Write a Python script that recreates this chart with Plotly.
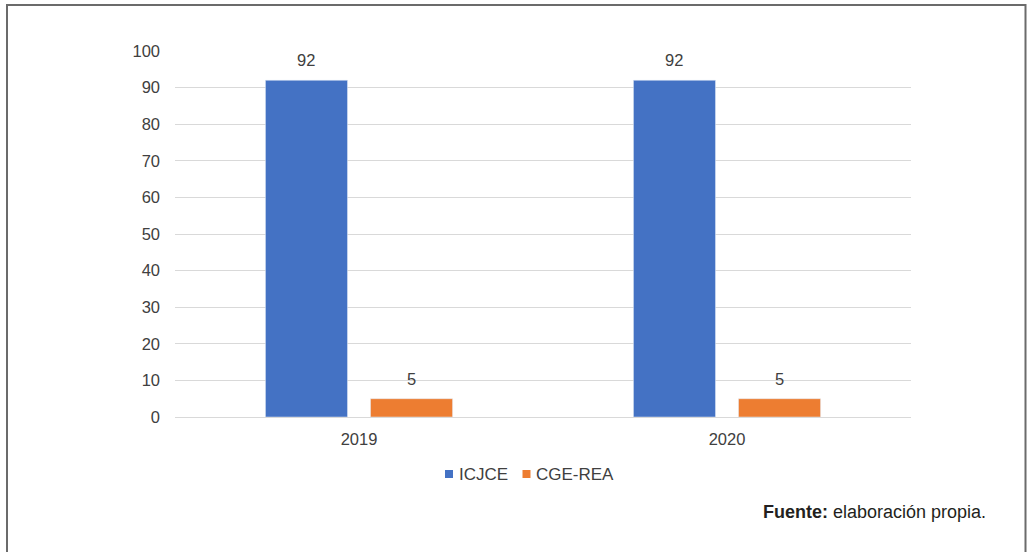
import plotly.graph_objects as go

years = ["2019", "2020"]
icjce = [92, 92]
cge_rea = [5, 5]
y_ticks = [0, 10, 20, 30, 40, 50, 60, 70, 80, 90, 100]
series_names = ["ICJCE", "CGE-REA"]
series_colors = ["#4472C4", "#ED7D31"]

W, H = 1028, 552
L, R, T, B = 175, 117, 51, 135
pw, ph = W - L - R, H - T - B

def px_x(x):
    return (x - L) / pw

def px_y(y):
    return (H - B - y) / ph

font_family = "Liberation Sans, Arial, sans-serif"
txt_color = "#404040"

fig = go.Figure()
for name, vals, col in zip(series_names, [icjce, cge_rea], series_colors):
    fig.add_trace(go.Bar(
        name=name, x=years, y=vals, marker_color=col,
        showlegend=False, offsetgroup=name,
    ))

# data labels (placed above each bar, offset within group)
bar_offset = 0.1427
for si, (vals, sign) in enumerate(zip([icjce, cge_rea], [-1, 1])):
    for ci, v in enumerate(vals):
        fig.add_annotation(x=ci + sign * bar_offset, y=v, xref="x", yref="y",
                           text=str(v), showarrow=False, yanchor="bottom", yshift=9,
                           font=dict(size=16.5, color=txt_color, family=font_family))

fig.update_layout(
    width=W, height=H,
    margin=dict(l=L, r=R, t=T, b=B, autoexpand=False),
    paper_bgcolor="white", plot_bgcolor="white",
    barmode="group", bargap=0.429, bargroupgap=0.219,
    font=dict(family=font_family, size=16.5, color=txt_color),
    showlegend=False,
    xaxis=dict(showgrid=False, showline=True, linecolor="#d9d9d9", linewidth=1,
               ticks="", tickfont=dict(size=16.5, color=txt_color), ticklabelstandoff=7,
               range=[-0.5, 1.5]),
    yaxis=dict(range=[0, 100], tickvals=y_ticks, showgrid=True, gridcolor="#d9d9d9",
               gridwidth=1, zeroline=False, showline=False, ticks="",
               tickfont=dict(size=16.5, color=txt_color), ticklabelstandoff=14),
)

# legend drawn as coloured squares + labels
legend_items = [(445, 457), (522.5, 534)]
for (sx, tx), name, col in zip(legend_items, series_names, series_colors):
    fig.add_shape(type="rect", xref="paper", yref="paper",
                  x0=px_x(sx), x1=px_x(sx + 8), y0=px_y(478), y1=px_y(470),
                  line=dict(width=0), fillcolor=col)
    fig.add_annotation(xref="paper", yref="paper", x=px_x(tx), y=px_y(474.5),
                       xanchor="left", yanchor="middle", showarrow=False, text=name,
                       font=dict(size=17, color=txt_color, family=font_family))

fig.add_shape(type="rect", xref="paper", yref="paper",
              x0=px_x(7), x1=px_x(1025.5), y0=px_y(570), y1=px_y(5),
              line=dict(color="#6b6b6b", width=2), fillcolor="rgba(0,0,0,0)", layer="above")

fig.add_annotation(xref="paper", yref="paper", x=px_x(988), y=px_y(512),
                   xanchor="right", yanchor="middle", showarrow=False,
                   text="<b>Fuente:</b> elaboración propia.",
                   font=dict(size=18, color="#231f20", family=font_family))

fig.write_html("out.html")
